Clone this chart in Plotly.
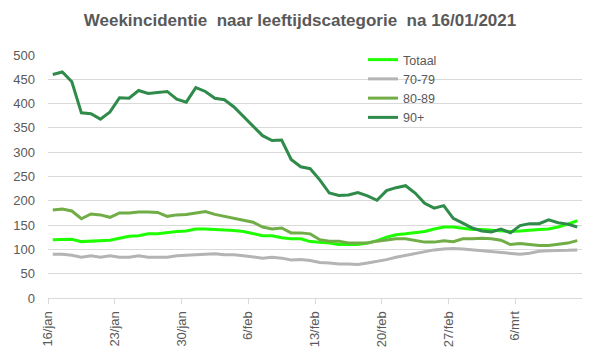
import plotly.graph_objects as go

# days since 16/jan (16/jan .. 12/mrt)
days = list(range(56))
tick_labels = ["16/jan", "23/jan", "30/jan", "6/feb", "13/feb", "20/feb", "27/feb", "6/mrt"]
tick_days = [0, 7, 14, 21, 28, 35, 42, 49]

totaal = [120, 121, 121, 116, 117, 117, 119, 123, 127, 128, 132, 132, 135, 137, 138, 142,
          142, 141, 141, 139, 137, 132, 128, 128, 124, 122, 122, 116, 115, 113, 110, 110,
          110, 113, 118, 125, 130, 132, 134, 137, 142, 146, 146, 144, 141, 141, 140, 139,
          137, 138, 140, 141, 142, 146, 152, 159]
age70_79 = [90, 90, 88, 84, 87, 84, 87, 84, 84, 87, 84, 84, 84, 87, 88, 89,
            89, 91, 89, 89, 87, 84, 82, 84, 82, 78, 79, 77, 73, 72, 70, 70,
            69, 72, 75, 79, 84, 88, 91, 96, 99, 101, 102, 101, 99, 98, 96, 94,
            91, 90, 92, 96, 97, 97, 98, 99]
age80_89 = [181, 183, 179, 163, 173, 171, 166, 175, 175, 177, 177, 176, 168, 171, 172, 175,
            178, 172, 168, 164, 159, 156, 146, 142, 144, 134, 134, 132, 120, 117, 117, 113,
            113, 113, 117, 120, 122, 122, 118, 115, 115, 118, 116, 122, 122, 123, 122, 119,
            110, 112, 110, 108, 108, 110, 113, 118]
age90plus = [460, 465, 445, 381, 379, 368, 383, 412, 411, 427, 421, 423, 425, 409, 403, 433,
             425, 411, 408, 393, 373, 353, 334, 324, 325, 285, 270, 266, 243, 216, 211, 212,
             217, 210, 201, 221, 227, 231, 216, 195, 185, 190, 164, 154, 144, 138, 136, 142,
             134, 149, 153, 153, 161, 155, 152, 146]

series = [
    ("Totaal", totaal, "#1EFF00"),
    ("70-79", age70_79, "#B4B4B4"),
    ("80-89", age80_89, "#70AD47"),
    ("90+", age90plus, "#2E8B4A"),
]

fig = go.Figure()
for name, vals, col in series:
    fig.add_trace(go.Scatter(x=days, y=vals, name=name, mode="lines",
                             line=dict(color=col, width=3)))

# page has an 8px body margin; compensate so the plot lands where the reference has it
W, H = 591, 351
ml, mt = 40, 47
pw, ph = 534, 243
mr, mb = W - ml - pw, H - mt - ph

fig.update_layout(
    width=W, height=H,
    margin=dict(l=ml, r=mr, t=mt, b=mb, autoexpand=False),
    paper_bgcolor="white", plot_bgcolor="white",
    font=dict(family="Liberation Sans, Arial, sans-serif", color="#595959", size=13),
    title=dict(text="<b>Weekincidentie  naar leeftijdscategorie  na 16/01/2021</b>",
               x=292 / W, xanchor="center", y=1 - 12 / H, yanchor="middle",
               font=dict(size=17, color="#595959")),
    showlegend=True,
    legend=dict(x=(355 - ml) / pw, y=1 + (mt - 37) / ph, xanchor="left", yanchor="top",
                bgcolor="rgba(0,0,0,0)", font=dict(size=12.5, color="#595959"),
                tracegroupgap=0),
    xaxis=dict(range=[-0.5, 55.5], tickmode="array",
               tickvals=[d - 0.5 for d in tick_days], ticktext=tick_labels,
               tickangle=-90, ticks="outside", ticklen=5, tickcolor="#D9D9D9",
               showgrid=False, showline=True, linecolor="#D9D9D9", linewidth=1,
               zeroline=False, automargin=False, ticklabelstandoff=2,
               tickfont=dict(size=13, color="#595959")),
    yaxis=dict(range=[0, 500], dtick=50, showgrid=True, gridcolor="#D9D9D9",
               gridwidth=1, zeroline=False, showline=False, ticks="",
               automargin=False, ticklabelstandoff=12,
               tickfont=dict(size=13, color="#595959")),
)

fig.write_html("out.html")
